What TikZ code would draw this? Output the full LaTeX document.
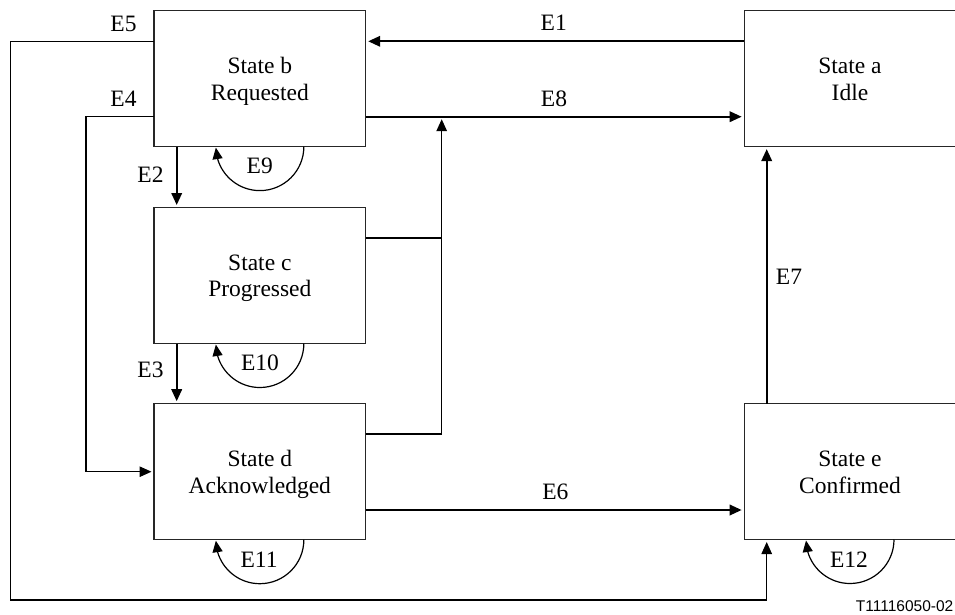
\documentclass[tikz,border=0pt]{standalone}
\usepackage{fontspec}
\setmainfont{Liberation Serif}
\newfontfamily\figsans{Liberation Sans}
\usetikzlibrary{arrows.meta,bending}
\begin{document}
\begin{tikzpicture}[x=1pt,y=-1pt,
  statebox/.style={draw=black!85,line width=1.1pt,inner sep=0pt,outer sep=0pt,
    minimum width=211.7pt,minimum height=136pt},
  linetext/.style={font=\fontsize{23.5}{27}\selectfont,inner sep=0pt,anchor=base},
  evlabel/.style={font=\fontsize{23.5}{27}\selectfont,inner sep=0pt},
  evarrow/.style={-{Triangle[length=12pt,width=10.5pt]},shorten >=2.5pt},
  looparrow/.style={line width=1.2pt,-{Triangle[length=11.5pt,width=10pt,flex]},shorten >=1pt},
  heavyline/.style={line width=2pt},
  midline/.style={line width=1.5pt},
  lightline/.style={line width=1.1pt}
]
\useasboundingbox (0,0) rectangle (955,614);
\clip (0,0) rectangle (955,614);

% state boxes
\node[statebox] (b) at (259.85,78.6) {};
\node[statebox] (c) at (259.85,275.5) {};
\node[statebox] (d) at (259.85,471.7) {};
\node[statebox] (a) at (850,78.6) {};
\node[statebox] (e) at (850,471.5) {};

% box texts
\node[linetext] (b1) at ([yshift=4.8pt]b.center) {State b};
\node[linetext] (b2) at ([yshift=-22pt]b.center) {Requested};
\node[linetext] (c1) at ([yshift=5.5pt]c.center) {State c};
\node[linetext] (c2) at ([yshift=-21.3pt]c.center) {Progressed};
\node[linetext] (d1) at ([yshift=4.8pt]d.center) {State d};
\node[linetext] (d2) at ([yshift=-22pt]d.center) {Acknowledged};
\node[linetext] (a1) at ([yshift=4.8pt]a.center) {State a};
\node[linetext] (a2) at ([yshift=-22pt]a.center) {Idle};
\node[linetext] (e1) at ([yshift=4.8pt]e.center) {State e};
\node[linetext] (e2) at ([yshift=-22pt]e.center) {Confirmed};

% routing coordinates
\coordinate (ya) at (0,41.3);
\coordinate (yb) at (0,116.7);
\coordinate (y6) at (0,510);
\coordinate (xv) at (176.7,0);
\coordinate (x7) at (766.7,0);
\coordinate (e5l) at (10.3,41.3);
\coordinate (e5b) at (10.3,600);
\coordinate (e5r) at (766.7,600);
\coordinate (e4l) at (86,116.7);
\coordinate (e4b) at (86,471.7);
\coordinate (jc) at (441.7,238);
\coordinate (jd) at (441.7,434);

% transitions
\draw[heavyline,evarrow] (a.west |- ya) -- (b.east |- ya);
\draw[heavyline,evarrow] (b.east |- yb) -- (a.west |- yb);
\draw[heavyline,evarrow] (b.south -| xv) -- (c.north -| xv);
\draw[heavyline,evarrow] (c.south -| xv) -- (d.north -| xv);
\draw[lightline,evarrow] (b.west |- yb) -- (e4l) -- (e4b) -- (d.west |- e4b);
\draw[lightline,evarrow] (b.west |- ya) -- (e5l) -- (e5b) -- (e5r) -- (e.south -| e5r);
\draw[heavyline,evarrow] (d.east |- y6) -- (e.west |- y6);
\draw[heavyline,evarrow] (e.north -| x7) -- (a.south -| x7);
\draw[heavyline] (c.east |- jc) -- (jc);
\draw[lightline] (d.east |- jd) -- (jd) -- (jc);
\draw[midline,evarrow] (jc) -- (jc |- yb);

% self loops
\draw[looparrow] ([xshift=44pt]b.south) arc[start angle=0,end angle=-180,radius=44pt];
\draw[looparrow] ([xshift=44pt]c.south) arc[start angle=0,end angle=-180,radius=44pt];
\draw[looparrow] ([xshift=44pt]d.south) arc[start angle=0,end angle=-180,radius=44pt];
\draw[looparrow] ([xshift=44pt]e.south) arc[start angle=0,end angle=-180,radius=44pt];

% event labels
\node[evlabel] (l1) at (553.7,23) {E1};
\node[evlabel] (l2) at (150.5,174.3) {E2};
\node[evlabel] (l3) at (150.5,370.3) {E3};
\node[evlabel] (l4) at (123.5,99) {E4};
\node[evlabel] (l5) at (123.5,23.8) {E5};
\node[evlabel] (l6) at (555.3,491.7) {E6};
\node[evlabel] (l7) at (789,277) {E7};
\node[evlabel] (l8) at (554,99) {E8};
\node[evlabel] (l9) at (259.7,166.3) {E9};
\node[evlabel] (l10) at (260,362.8) {E10};
\node[evlabel] (l11) at (259,559.5) {E11};
\node[evlabel] (l12) at (849,560) {E12};

% figure reference
\node[font=\figsans\fontsize{15.5}{18}\selectfont,anchor=base east,inner sep=0pt] (fig) at (953.5,611.5) {T11116050-02};
\end{tikzpicture}
\end{document}
